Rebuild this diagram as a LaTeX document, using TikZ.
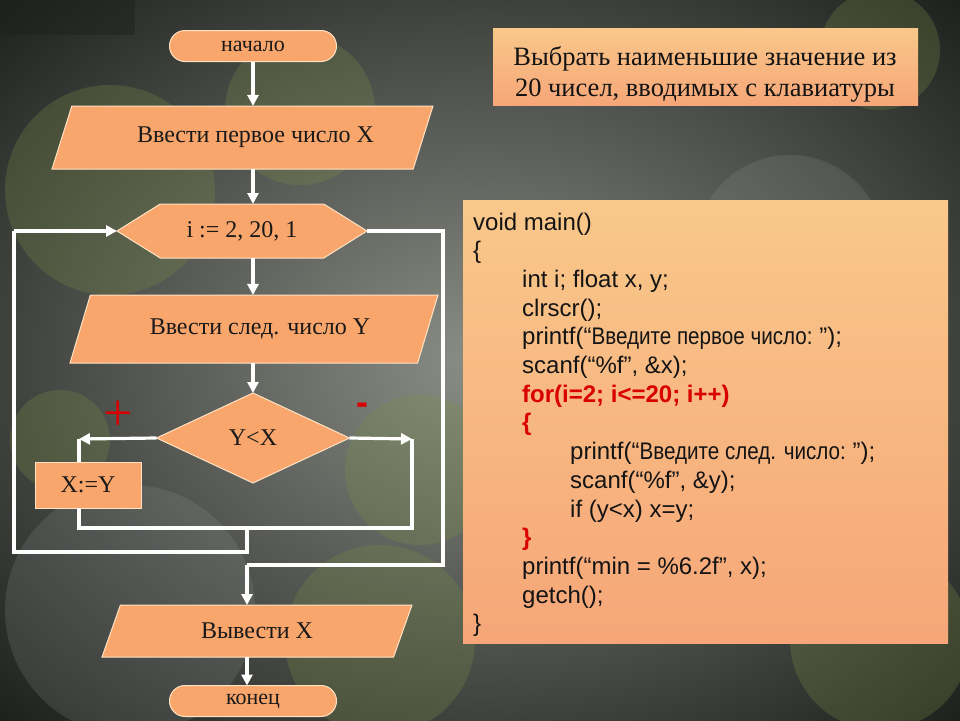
\documentclass[tikz,border=0pt]{standalone}
\usepackage{fontspec}
\setmainfont{Liberation Serif}
\newfontfamily\codefont{Liberation Sans}
\usetikzlibrary{shapes.geometric,shapes.misc,shapes.symbols,arrows.meta,calc}
\definecolor{shapeor}{HTML}{F9A66C}
\definecolor{shapeedge}{HTML}{FFE2C4}
\definecolor{codetop}{HTML}{F9C88A}
\definecolor{codebot}{HTML}{F6A678}
\definecolor{redtxt}{HTML}{D80000}
\definecolor{bglight}{HTML}{8A8E86}
\definecolor{bgdark}{HTML}{1E201D}
\definecolor{olive}{HTML}{7C8E48}
\definecolor{grayc}{HTML}{9AA3A0}
\newcommand{\narrowcyr}[1]{\scalebox{0.86}[1]{#1}}
\begin{document}
\begin{tikzpicture}[x=1pt,y=-1pt,
  fc/.style={fill=shapeor, draw=shapeedge, line width=1, outer sep=0, inner sep=0,
             font=\fontsize{24}{28}\selectfont, text=black!90},
  pill/.style={fc, rounded rectangle, minimum width=167, minimum height=31, font=\fontsize{22}{26}\selectfont},
  para/.style={fc, trapezium, trapezium stretches body},
  arr/.style={draw=white, line width=3.2, -{Triangle[width=11pt,length=11pt]}},
  lin/.style={draw=white, line width=3.2, line join=miter},
  codeline/.style={anchor=base west, inner sep=0, font=\codefont\fontsize{24}{28}\selectfont, text=black!92},
  redline/.style={codeline, text=redtxt, font=\codefont\bfseries\fontsize{24}{28}\selectfont},
  titletxt/.style={anchor=base, inner sep=0, font=\fontsize{26.5}{30}\selectfont, text=black!92},
  blob/.style={fill=olive, opacity=0.28},
  gblob/.style={fill=grayc, opacity=0.18}
]
\useasboundingbox (0,0) rectangle (960,720);
% background
\shade[inner color=bglight, outer color=bgdark] (-200,-150) rectangle (1160,870);
\fill[bgdark, opacity=0.45] (0,0) rectangle (135,35);
\fill[blob] (110,190) circle (105);
\fill[blob] (300,110) circle (75);
\fill[gblob] (790,250) circle (95);
\fill[gblob] (130,610) circle (125);
\fill[blob] (380,640) circle (95);
\fill[blob] (420,470) circle (75);
\fill[blob] (60,440) circle (50);
\fill[blob] (880,50) circle (60);
\fill[blob] (880,640) circle (90);
\fill[gblob] (640,300) circle (60);

% title and code boxes
\node (title) [top color=codetop, bottom color=codebot, minimum width=425, minimum height=77, inner sep=0] at (705.5,66.5) {};
\node (t1) [titletxt] at (705,65) {Выбрать наименьшие значение из};
\node (t2) [titletxt] at (705,96) {20 чисел, вводимых с клавиатуры};

\node (code) [top color=codetop, bottom color=codebot, minimum width=485, minimum height=443, inner sep=0] at (705.5,421.5) {};
\node (c1)  [codeline] at (473,230.0) {void main()};
\node (c2)  [codeline] at (473,258.7) {\{};
\node (c3)  [codeline] at (522,287.4) {int i; float x, y;};
\node (c4)  [codeline] at (522,316.1) {clrscr();};
\node (c5)  [codeline] at (522,344.8) {printf(“\narrowcyr{Введите первое число:} ”);};
\node (c6)  [codeline] at (522,373.5) {scanf(“\%f”, \&x);};
\node (c7)  [redline]  at (522,402.2) {for(i=2; i<=20; i++)};
\node (c8)  [redline]  at (522,430.9) {\{};
\node (c9)  [codeline] at (570,459.6) {printf(“\narrowcyr{Введите след. число:} ”);};
\node (c10) [codeline] at (570,488.3) {scanf(“\%f”, \&y);};
\node (c11) [codeline] at (570,517.0) {if (y<x) x=y;};
\node (c12) [redline]  at (522,545.7) {\}};
\node (c13) [codeline] at (522,574.4) {printf(“min = \%6.2f”, x);};
\node (c14) [codeline] at (522,603.1) {getch();};
\node (c15) [codeline] at (473,631.8) {\}};

% flowchart nodes
\node (start) [pill] at (253,46) {начало};
\node (p1) [para, trapezium left angle=46.4, trapezium right angle=133.6, minimum width=381, minimum height=63] at (242.5,137.5) {\hspace*{26pt}Ввести первое число X};
\node (hex) [fc, signal, signal to=west and east, signal pointer angle=64, minimum width=250, minimum height=54] at (242,231) {i := 2, 20, 1};
\node (p2) [para, trapezium left angle=45, trapezium right angle=135, minimum width=368, minimum height=68] at (254,329) {\hspace*{12pt}Ввести след. число Y};
\node (dia) [fc, diamond, minimum width=193, minimum height=90] at (253,438) {Y<X};
\node (xy) [fc, rectangle, minimum width=106, minimum height=46] at (88,485) {X:=Y};
\node (p3) [para, trapezium left angle=40.9, trapezium right angle=139.1, minimum width=310, minimum height=52] at (257,631) {Вывести X};
\node (stop) [pill] at (253,701) {конец};

\node (plus) [text=redtxt, font=\fontsize{52}{52}\selectfont, inner sep=0] at (118,416) {+};
\node (minus) [text=redtxt, font=\codefont\bfseries\fontsize{36}{36}\selectfont, inner sep=0] at (362,409) {-};

% helper coordinates
\coordinate (lx) at (79,439);
\coordinate (rx) at (412,439);
\coordinate (merge) at (247,528);
\coordinate (back) at (247,552);
\coordinate (farl) at (14,552);
\coordinate (farr) at (443,231);
\coordinate (out) at (247,565);

% connectors
\draw[arr] (start.south) -- (start.south |- p1.north);
\draw[arr] (start.south |- p1.south) -- (start.south |- hex.north);
\draw[arr] (start.south |- hex.south) -- (start.south |- p2.north);
\draw[arr] (dia.north |- p2.south) -- (dia.north);
\draw[arr] (dia.west) -- (lx);
\draw[lin] (lx) -- (lx |- xy.north);
\draw[arr] (dia.east) -- (rx);
\draw[lin] (lx |- xy.south) -- (lx |- merge) -- (rx |- merge) -- (rx);
\draw[lin] (merge) -- (back) -- (farl) -- (farl |- hex.west);
\draw[arr] (farl |- hex.west) -- (hex.west);
\draw[lin] (hex.east) -- (farr) -- (farr |- out) -- (out);
\draw[arr] (out) -- (out |- p3.north);
\draw[arr] (out |- p3.south) -- (out |- stop.north);
\end{tikzpicture}
\end{document}
